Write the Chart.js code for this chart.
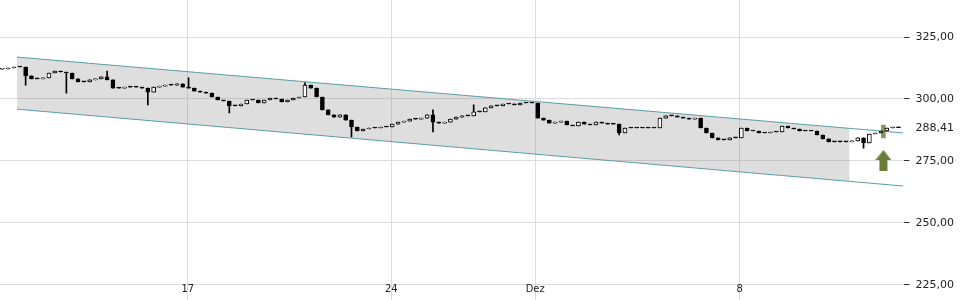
<!DOCTYPE html>
<html>
<head>
<meta charset="utf-8">
<script src="https://cdn.jsdelivr.net/npm/chart.js@4/dist/chart.umd.min.js"></script>
<style>
  body { margin: 0; background: #fff; }
  #wrap { position: relative; width: 960px; height: 300px; }
</style>
</head>
<body>
<div id="wrap"><canvas id="chart"></canvas></div>
<script>
// x unit = one trading day, 0 = start of Mon 17 Nov (Thanksgiving gap included)
const tickPos = [0, 5, 8.53, 13.55];
const tickLabels = ["17", "24", "Dez", "8"];
const priceTicks = [225, 250, 275, 300, 325];
const lastPrice = 288.41;

const firstBar = -4.55;
const barsPerDay = 7;
const openFirst = 312.0;
const closes = [
  312.1, 312.5, 312.9, 312.9, 309.3, 308.1, 308.1, 308.5, 310.5, 311.3,
  310.9, 310.5, 308.1, 306.9, 306.9, 307.7, 308.1, 308.9, 307.7, 304.4,
  304.4, 304.8, 304.8, 304.8, 304.4, 302.8, 304.8, 305.2, 305.6, 305.6,
  306.1, 304.8, 304.4, 303.2, 302.8, 302.4, 300.8, 299.6, 299.2, 297.2,
  297.2, 298.0, 299.6, 299.6, 298.4, 299.6, 300.4, 300.0, 298.8, 299.6,
  300.4, 300.8, 305.6, 304.4, 300.8, 295.6, 293.6, 292.7, 293.6, 291.5,
  288.7, 287.1, 287.9, 288.3, 288.3, 288.7, 288.7, 289.9, 290.7, 291.1,
  291.9, 291.9, 292.3, 293.6, 290.7, 290.3, 290.7, 291.9, 292.7, 293.2,
  293.2, 294.8, 294.8, 296.4, 297.2, 297.2, 298.0, 298.0, 297.6, 298.4,
  298.4, 298.4, 292.3, 291.5, 290.3, 290.7, 291.1, 289.5, 289.1, 290.7,
  289.9, 289.5, 290.7, 290.3, 289.9, 289.9, 286.3, 288.3, 288.3, 288.3,
  288.3, 288.3, 288.3, 292.3, 293.2, 293.2, 292.7, 292.3, 291.9, 292.3,
  288.3, 286.3, 284.3, 283.5, 283.5, 284.3, 284.3, 288.3, 287.1, 287.1,
  286.3, 286.3, 286.7, 286.7, 289.1, 288.3, 287.9, 287.1, 287.1, 287.1,
  285.5, 283.9, 282.7, 282.7, 282.7, 282.7, 283.1, 284.3, 282.3, 285.9,
  286.3, 287.1, 288.3, 288.7, 288.41
];
// [bar, low, high] for the visible wicks
const spikes = [
  [4, 305.6, null], [11, 302.4, null], [18, null, 311.3], [25, 297.6, null],
  [32, null, 308.5], [39, 294.4, null], [52, null, 306.5], [60, 284.7, null],
  [74, 286.7, 295.6], [81, null, 297.6], [106, 285.5, null], [148, 280.2, null]
];

const channelX = [-4.19, 17.57];
const channelUpper = [316.9, 286.3];
const channelLower = [295.9, 264.9];
const shadeX = [-4.19, 16.25];
const shadeUpper = [316.9, 288.2];
const shadeLower = [295.9, 266.8];

const signalX = 17.08;
const signalBar = [284.3, 289.5];
const signalArrowY = 275.2;

const olive = "#6b7d37";

const candles = closes.map((c, i) => {
  const o = i === 0 ? openFirst : closes[i - 1];
  return { x: firstBar + i / barsPerDay, o, c, lo: Math.min(o, c), hi: Math.max(o, c) };
});
spikes.forEach(([i, lo, hi]) => {
  if (lo != null) candles[i].lo = lo;
  if (hi != null) candles[i].hi = hi;
});

function arrowIcon() {
  const c = document.createElement("canvas");
  c.width = 16;
  c.height = 21;
  const g = c.getContext("2d");
  g.fillStyle = olive;
  g.beginPath();
  g.moveTo(0, 10);
  g.lineTo(8, 0);
  g.lineTo(16, 10);
  g.closePath();
  g.fill();
  g.fillRect(4, 10, 8, 11);
  return c;
}

const deNum = (v) => v.toFixed(2).replace(".", ",");

new Chart(document.getElementById("chart"), {
  type: "bar",
  data: {
    datasets: [
      {
        type: "bar",
        label: "body",
        order: 1,
        grouped: false,
        data: candles.map((k) => ({ x: k.x, y: [k.o, k.c] })),
        backgroundColor: (ctx) => {
          const k = candles[ctx.dataIndex];
          return k && k.c > k.o ? "#ffffff" : "#000000";
        },
        borderColor: "#000000",
        borderWidth: 1,
        borderSkipped: false,
        barThickness: 4,
        minBarLength: 1,
      },
      {
        type: "bar",
        label: "wick",
        order: 2,
        grouped: false,
        data: candles.map((k) => ({ x: k.x, y: [k.lo, k.hi] })),
        backgroundColor: "#000000",
        barThickness: 1,
        borderWidth: 0,
      },
      {
        type: "bar",
        label: "signal",
        order: 3,
        grouped: false,
        data: [{ x: signalX, y: signalBar }],
        backgroundColor: "rgba(107,125,55,0.8)",
        barThickness: 4,
        borderWidth: 0,
      },
      {
        type: "line",
        label: "arrow",
        order: 0,
        data: [{ x: signalX, y: signalArrowY }],
        showLine: false,
        pointStyle: arrowIcon(),
        pointRadius: 8,
      },
      {
        type: "line",
        label: "upper",
        order: 5,
        data: channelX.map((x, i) => ({ x, y: channelUpper[i] })),
        borderColor: "#5a9fa3",
        borderWidth: 1,
        pointRadius: 0,
        fill: false,
      },
      {
        type: "line",
        label: "lower",
        order: 5,
        data: channelX.map((x, i) => ({ x, y: channelLower[i] })),
        borderColor: "#5a9fa3",
        borderWidth: 1,
        pointRadius: 0,
        fill: false,
      },
      {
        type: "line",
        label: "shadeTop",
        order: 6,
        data: shadeX.map((x, i) => ({ x, y: shadeUpper[i] })),
        borderWidth: 0,
        pointRadius: 0,
        backgroundColor: "rgba(128,128,128,0.26)",
        fill: "+1",
      },
      {
        type: "line",
        label: "shadeBottom",
        order: 6,
        data: shadeX.map((x, i) => ({ x, y: shadeLower[i] })),
        borderWidth: 0,
        pointRadius: 0,
        fill: false,
      },
    ],
  },
  options: {
    responsive: true,
    maintainAspectRatio: false,
    animation: false,
    layout: { autoPadding: false, padding: 0 },
    plugins: { legend: { display: false }, tooltip: { enabled: false } },
    scales: {
      x: {
        type: "linear",
        position: { y: 225 },
        offset: false,
        min: -4.608,
        max: 17.574,
        afterBuildTicks: (scale) => {
          scale.ticks = tickPos.map((v) => ({ value: v }));
        },
        afterFit: (scale) => {
          scale.paddingLeft = 0;
          scale.paddingRight = 0;
        },
        ticks: {
          autoSkip: false,
          maxRotation: 0,
          padding: -2,
          color: "#222",
          font: { family: "'DejaVu Sans Condensed', 'DejaVu Sans'", size: 11 },
          callback: (v) => tickLabels[tickPos.indexOf(v)] ?? "",
        },
        grid: { color: "#dcdcdc", drawTicks: false, offset: false },
        border: { display: false },
      },
      y: {
        position: "right",
        min: 218.95,
        max: 339.92,
        afterBuildTicks: (scale) => {
          scale.ticks = priceTicks.concat([lastPrice]).sort((a, b) => a - b).map((v) => ({ value: v }));
        },
        afterFit: (scale) => {
          scale.paddingTop = 0;
          scale.paddingBottom = 0;
        },
        ticks: {
          padding: 6,
          color: "#222",
          font: { family: "'DejaVu Sans'", size: 11 },
          callback: (v) => deNum(v),
        },
        grid: {
          tickLength: 6,
          color: (ctx) => (ctx.tick && ctx.tick.value === lastPrice ? "transparent" : "#dcdcdc"),
          tickColor: (ctx) => (ctx.tick && ctx.tick.value === lastPrice ? "transparent" : "#333"),
        },
        border: { display: false },
      },
    },
  },
});
</script>
</body>
</html>
